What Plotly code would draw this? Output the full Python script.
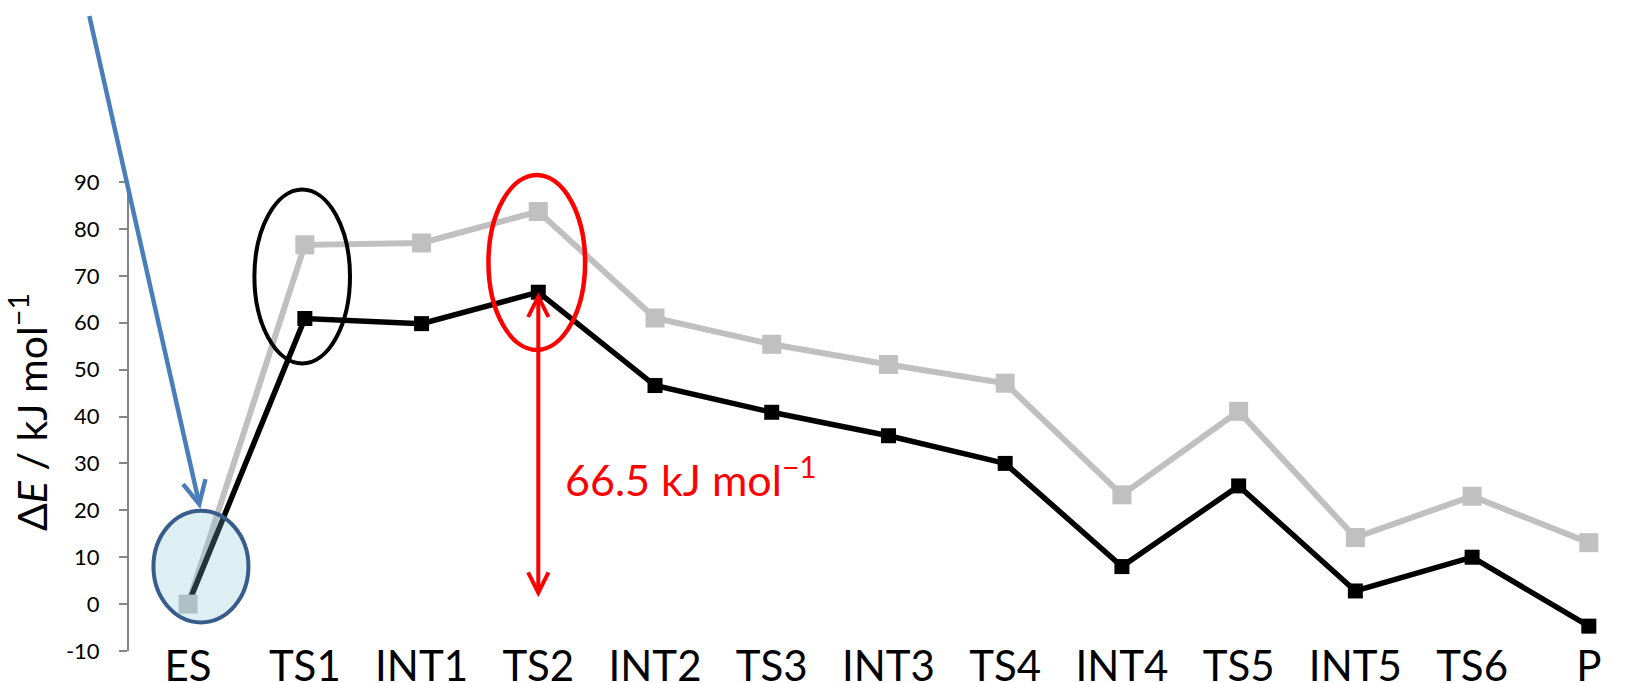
import plotly.graph_objects as go

categories = ["ES", "TS1", "INT1", "TS2", "INT2", "TS3", "INT3", "TS4",
              "INT4", "TS5", "INT5", "TS6", "P"]
energy_black = [0.0, 60.9, 59.8, 66.5, 46.6, 40.9, 35.9, 30.0, 8.0, 25.2, 2.8, 10.0, -4.7]
energy_gray = [0.0, 76.6, 77.0, 83.7, 61.0, 55.4, 51.1, 47.1, 23.3, 41.1, 14.2, 23.0, 13.1]
y_ticks = [-10, 0, 10, 20, 30, 40, 50, 60, 70, 80, 90]
y_tick_labels = ["-10", "0", "10", "20", "30", "40", "50", "60", "70", "80", "90"]
barrier_value = 66.5
barrier_label = "66.5 kJ mol<sup>−1</sup>"
y_title = "Δ<i>E</i> / kJ mol<sup>−1</sup>"

FONT = "Lato"
AXIS_GRAY = "#868686"
xpos = list(range(len(categories)))

W, H = 1641, 683
ml, mr, mt, mb = 129.3, 0, 181.6, 32.3
x_range = [-0.5064, 12.447]
y_range = [-10, 90]


def xd(v):
    return (v - x_range[0]) / (x_range[1] - x_range[0])


def yd(v):
    return (v - y_range[0]) / (y_range[1] - y_range[0])


fig = go.Figure()
fig.add_trace(go.Scatter(x=xpos, y=energy_gray, mode="lines",
                         line=dict(color="#C0C0C0", width=6),
                         showlegend=False, hoverinfo="skip"))
fig.add_trace(go.Scatter(x=xpos, y=energy_black, mode="lines+markers",
                         line=dict(color="#000000", width=5.5),
                         marker=dict(symbol="square", size=15, color="#000000"),
                         showlegend=False))
fig.add_trace(go.Scatter(x=xpos, y=energy_gray, mode="markers",
                         marker=dict(symbol="square", size=19, color="#C0C0C0"),
                         showlegend=False))

zero_pos = yd(0)

fig.update_layout(
    width=W, height=H,
    margin=dict(l=ml, r=mr, t=mt, b=mb, autoexpand=False),
    paper_bgcolor="white", plot_bgcolor="white",
    font=dict(family=FONT, color="black"),
    xaxis=dict(range=x_range, tickmode="array", tickvals=xpos, ticktext=categories,
               showline=False, ticks="", showgrid=False, zeroline=False,
               tickfont=dict(family=FONT, size=42, color="black"),
               ticklabelstandoff=-13),
    xaxis2=dict(overlaying="x", anchor="free", position=zero_pos, range=x_range,
                tickmode="array", tickvals=xpos, showticklabels=False,
                showline=True, linecolor=AXIS_GRAY, linewidth=2,
                ticks="outside", ticklen=8, tickwidth=2, tickcolor=AXIS_GRAY,
                showgrid=False, zeroline=False),
    yaxis=dict(range=y_range, tickmode="array", tickvals=y_ticks, ticktext=y_tick_labels,
               showline=True, linecolor=AXIS_GRAY, linewidth=2,
               ticks="outside", ticklen=8, tickwidth=2, tickcolor=AXIS_GRAY,
               showgrid=False, zeroline=False,
               tickfont=dict(family=FONT, size=22, color="black"),
               ticklabelstandoff=15),
)


# ellipses (domain refs so they are not clipped at the plot edge)
def ellipse(x0, x1, y0, y1, color, width, fill="rgba(0,0,0,0)"):
    fig.add_shape(type="circle", xref="x domain", yref="y domain",
                  x0=xd(x0), x1=xd(x1), y0=yd(y0), y1=yd(y1),
                  line=dict(color=color, width=width), fillcolor=fill, layer="above")


ellipse(-0.297, 0.517, -3.9, 19.9, "#385D8A", 4, "rgba(130,196,211,0.27)")
ellipse(0.568, 1.387, 51.3, 88.4, "#000000", 4)
ellipse(2.573, 3.401, 54.2, 91.5, "#FF0000", 4.5)

# blue arrow
fig.add_annotation(x=0.105, y=20.3, ax=-0.849, ay=125.7, xref="x", yref="y",
                   axref="x", ayref="y", text="", showarrow=True,
                   arrowhead=5, arrowsize=1, arrowwidth=4.5, arrowcolor="#4A7EBB",
                   standoff=0, startstandoff=0)
# red double arrow
fig.add_annotation(x=3, y=barrier_value, ax=3, ay=1.15, xref="x", yref="y",
                   axref="x", ayref="y", text="", showarrow=True,
                   arrowhead=5, startarrowhead=5, arrowside="end+start",
                   arrowsize=1, startarrowsize=1, arrowwidth=4, arrowcolor="#FF0000",
                   standoff=0, startstandoff=0)
# red label
fig.add_annotation(x=3.21, y=27.2, xref="x", yref="y", text=barrier_label,
                   showarrow=False, xanchor="left", yanchor="middle",
                   font=dict(family=FONT, size=43, color="#FF0000"))
# y title
fig.add_annotation(x=(29 - ml) / (W - ml - mr), y=40.9, xref="paper", yref="y",
                   text=y_title, showarrow=False, textangle=-90,
                   xanchor="center", yanchor="middle",
                   font=dict(family=FONT, size=41, color="black"))

fig.write_html("out.html")
